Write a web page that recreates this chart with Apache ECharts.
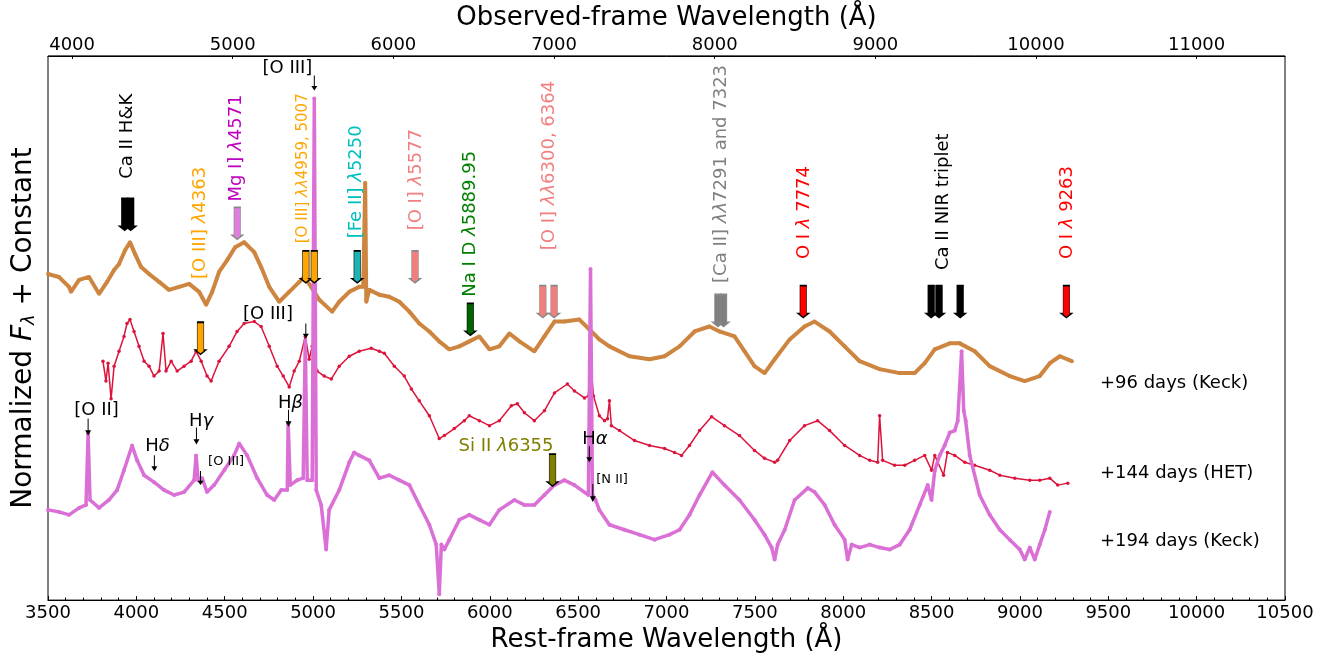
<!DOCTYPE html>
<html>
<head>
<meta charset="utf-8">
<script src="https://cdn.jsdelivr.net/npm/echarts@6/dist/echarts.min.js"></script>
<style>
html,body{margin:0;padding:0;background:#fff;}
#chart{width:1335px;height:658px;}
</style>
</head>
<body>
<div id="chart"></div>
<script>
// ---------------- data ----------------
const restTicks = [3500,4000,4500,5000,5500,6000,6500,7000,7500,8000,8500,9000,9500,10000,10500];
const obsTicks = [4000,5000,6000,7000,8000,9000,10000,11000];

// +96 days (Keck)
const day96Wave = [3500,3562,3619,3630,3676,3732,3789,3834,3874,3902,3936,3964,3993,4027,4072,4129,4185,4242,4299,4355,4395,4429,4468,4514,4559,4610,4667,4706,4752,4808,4865,4922,4950,4989,5035,5108,5148,5205,5261,5284,5295,5301,5318,5375,5431,5488,5545,5601,5658,5714,5771,5828,5884,5941,5998,6054,6111,6168,6252,6309,6366,6422,6507,6564,6620,6677,6790,6904,6989,7074,7159,7243,7300,7385,7442,7498,7555,7612,7697,7781,7838,7923,8008,8093,8206,8320,8404,8461,8518,8603,8659,8744,8829,8942,9027,9112,9169,9226,9294];
const day96Flux = [3.29,3.26,3.16,3.11,3.23,3.26,3.09,3.21,3.33,3.39,3.53,3.61,3.49,3.36,3.29,3.21,3.13,3.16,3.19,3.11,2.98,3.11,3.31,3.43,3.56,3.61,3.51,3.36,3.16,3.01,3.11,3.21,3.26,3.16,3.03,2.91,3.01,3.11,3.16,3.16,4.21,3.01,3.13,3.08,3.06,3.01,2.91,2.79,2.71,2.61,2.53,2.56,2.61,2.66,2.53,2.56,2.69,2.61,2.51,2.66,2.81,2.81,2.83,2.73,2.63,2.56,2.46,2.43,2.46,2.56,2.71,2.76,2.71,2.66,2.51,2.36,2.29,2.43,2.63,2.76,2.81,2.71,2.56,2.41,2.33,2.29,2.29,2.39,2.53,2.59,2.59,2.51,2.36,2.26,2.21,2.26,2.39,2.46,2.41];

// +144 days (HET)
const day144Wave = [3811,3828,3840,3857,3874,3902,3930,3947,3964,3987,4015,4044,4072,4100,4129,4151,4168,4197,4231,4270,4310,4338,4367,4400,4423,4468,4525,4570,4610,4667,4706,4752,4797,4831,4865,4893,4922,4956,4978,4995,5023,5063,5103,5148,5205,5261,5329,5375,5403,5460,5516,5556,5601,5658,5714,5743,5799,5856,5884,5941,5998,6054,6122,6156,6196,6252,6309,6366,6439,6479,6536,6558,6570,6587,6620,6649,6666,6677,6688,6734,6819,6904,6989,7045,7085,7130,7187,7255,7328,7413,7498,7555,7612,7629,7697,7781,7855,7923,8008,8093,8150,8195,8206,8223,8291,8348,8404,8461,8500,8518,8568,8590,8631,8688,8744,8829,8886,8971,9056,9112,9169,9214,9271];
const day144Flux = [2.41,2.21,2.39,2.03,2.36,2.51,2.66,2.79,2.83,2.71,2.56,2.41,2.36,2.26,2.31,2.69,2.31,2.41,2.31,2.36,2.41,2.51,2.41,2.26,2.21,2.41,2.56,2.71,2.79,2.81,2.76,2.56,2.36,2.26,2.15,2.31,2.41,2.66,2.43,2.56,2.31,2.26,2.23,2.36,2.46,2.51,2.54,2.51,2.49,2.36,2.26,2.13,2.01,1.86,1.63,1.66,1.73,1.81,1.86,1.81,1.76,1.81,1.96,1.98,1.89,1.81,1.91,2.09,2.18,2.11,2.04,2.06,2.41,2.06,1.86,1.81,1.83,2.01,1.76,1.71,1.61,1.56,1.53,1.49,1.46,1.56,1.71,1.85,1.76,1.66,1.51,1.43,1.39,1.41,1.61,1.76,1.81,1.71,1.56,1.46,1.41,1.39,1.86,1.41,1.36,1.36,1.41,1.46,1.31,1.46,1.26,1.49,1.46,1.39,1.36,1.31,1.26,1.23,1.21,1.21,1.23,1.16,1.18];

// +194 days (Keck)
const day194Wave = [3500,3562,3619,3676,3715,3727,3738,3789,3845,3891,3930,3976,4004,4044,4100,4157,4214,4270,4327,4338,4350,4372,4400,4440,4497,4553,4582,4627,4684,4740,4780,4820,4854,4859,4871,4910,4944,4956,4967,4995,5007,5018,5046,5074,5091,5148,5205,5233,5261,5318,5375,5431,5488,5545,5601,5658,5697,5714,5726,5743,5771,5828,5884,5941,5998,6054,6139,6196,6252,6309,6366,6422,6479,6558,6570,6581,6598,6620,6677,6762,6847,6932,7017,7074,7130,7187,7260,7328,7413,7498,7555,7595,7612,7629,7669,7725,7799,7838,7895,7951,8008,8025,8048,8093,8150,8206,8263,8320,8376,8433,8478,8500,8518,8546,8574,8603,8631,8648,8670,8682,8693,8716,8772,8829,8886,8942,8999,9027,9056,9084,9112,9141,9169];
const day194Flux = [0.91,0.89,0.86,0.93,0.96,1.68,1.01,0.93,1.01,1.11,1.31,1.56,1.41,1.26,1.19,1.11,1.06,1.09,1.21,1.46,1.21,1.23,1.09,1.16,1.31,1.46,1.58,1.46,1.23,1.06,1.01,1.11,1.11,1.79,1.16,1.21,1.23,2.62,1.21,1.21,5.06,1.11,0.96,0.51,0.91,1.11,1.39,1.49,1.46,1.41,1.23,1.26,1.21,1.16,0.96,0.76,0.56,0.06,0.56,0.51,0.61,0.81,0.86,0.81,0.76,0.91,1.01,0.96,0.96,1.06,1.16,1.21,1.16,1.06,3.34,1.06,1.01,0.91,0.76,0.71,0.66,0.61,0.66,0.71,0.86,1.06,1.29,1.16,1.01,0.81,0.66,0.53,0.41,0.56,0.71,1.01,1.13,1.09,0.96,0.76,0.61,0.41,0.56,0.53,0.56,0.53,0.51,0.56,0.71,0.96,1.16,1.01,1.31,1.46,1.56,1.69,1.71,1.81,2.51,1.91,1.81,1.46,1.06,0.86,0.71,0.61,0.51,0.41,0.53,0.41,0.56,0.71,0.89];

const epochNames = ['+96 days (Keck)','+144 days (HET)','+194 days (Keck)'];
const epochLabelWave = [9453,9453,9453];
const epochLabelFlux = [2.19,1.28,0.59];

// line identifications (block arrows): rest wavelength and arrow-tip flux
const lineWave = [3934,3968,4363,4571,4959,5007,5250,5577,5889.95,6300,6364,7291,7323,7774,8498,8542,8662,9263,6355];
const lineTip  = [3.73,3.73,2.48,3.64,3.20,3.20,3.20,3.20,2.67,2.85,2.85,2.76,2.76,2.85,2.85,2.85,2.85,2.85,1.15];

// vertical line-identification labels
const idLabels = ['Ca II H&K','[O III] λ4363','Mg I] λ4571','[O III] λλ4959, 5007','[Fe II] λ5250','[O I] λ5577','Na I D λ5889.95','[O I] λλ6300, 6364','[Ca II] λλ7291 and 7323','O I λ 7774','Ca II NIR triplet','O I λ 9263'];
const idLabelWave = [3951,4363,4563,4943,5247,5586,5892,6335,7312,7778,8565,9267];
const idLabelFlux = [4.25,3.24,4.02,3.60,3.65,3.73,3.06,3.53,3.20,3.44,3.33,3.44];

// narrow emission lines (thin arrows)
const narrowWave = [5007,4959,3727,4102,4340,4363,4861,6563,6583];
const narrowTip  = [5.14,2.64,1.66,1.30,1.57,1.16,1.75,1.39,0.99];
const narrowText = ['[O III]','[O III]','[O II]','Hδ','Hγ','[O III]','Hβ','Hα','[N II]'];
const narrowTextWave = [4855,4745,3775,4120,4366,4508,4872,6595,6692];
const narrowTextFlux = [5.36,2.88,1.91,1.555,1.80,1.395,1.99,1.625,1.22];

const siText = 'Si II λ6355';
const siTextWave = 6092, siTextFlux = 1.555;

// ---------------- styles ----------------
const FONT = 'DejaVu Sans';
const spectrumColors = ['#cd853f','#dc143c','#da70d6'];
const arrowFill = ['#000','#000','#ffa500','#dd7fdd','#ffa500','#ffa500','#1cb3b3','#f08080','#006400','#f08080','#f08080','#808080','#808080','#ff0000','#000','#000','#000','#ff0000','#808000'];
const arrowEdge = ['#000','#000','#000','#888','#000','#000','#000','#888','#000','#888','#888','#888','#888','#000','#000','#000','#000','#000','#000'];
const idLabelColor = ['#000','#ffa500','#bf00bf','#ffa500','#00bfbf','#f08080','#008000','#f08080','#808080','#ff0000','#000','#ff0000'];
const idLabelSize = [18,18,18,15,18,18,18,18,18,18,18,18];
const narrowLen = [15,15,17,16,17,14,17,16,18];
const narrowFont = [18,18,18,18,18,13,18,18,13];

const BLOCK = 'path://M1.7,0 L8.3,0 L8.3,28 L10,28 L5,32 L0,28 L1.7,28 Z';
const THIN = 'path://M2.5,0 L3.5,0 L3.5,11 L6,11 L3,16 L0,11 L2.5,11 Z';

function richify(t){ return t.replace(/([λδγβα])/g,'{l|$1}'); }
function zip(w,f){ return w.map((x,i)=>[x,f[i]]); }

const specs = [[day96Wave,day96Flux],[day144Wave,day144Flux],[day194Wave,day194Flux]];
const widths = [4,1.5,3.5];
const sizes = [4,3.5,4];

const series = specs.map((s,k)=>({
  type:'line', data: zip(s[0],s[1]), symbol:'circle', symbolSize:sizes[k], showSymbol:true, showAllSymbol:true,
  lineStyle:{color:spectrumColors[k], width:widths[k]}, itemStyle:{color:spectrumColors[k], opacity:1},
  silent:true, z:2+k, animation:false
}));

series.push({
  type:'scatter', silent:true, z:10, symbol:BLOCK, symbolSize:[10,32], symbolOffset:[0,'-50%'],
  data: lineWave.map((w,i)=>({value:[w,lineTip[i]], itemStyle:{color:arrowFill[i], borderColor:arrowEdge[i], borderWidth:1, opacity:1}})),
  animation:false
});

series.push({
  type:'scatter', silent:true, z:10,
  data: narrowWave.map((w,i)=>({value:[w,narrowTip[i]], symbol:THIN, symbolSize:[6,narrowLen[i]], symbolOffset:[0,'-50%'], itemStyle:{color:'#000', opacity:1}})),
  animation:false
});

const labelBase = {show:true, position:'inside', fontFamily:FONT, textBorderWidth:0, opacity:1, rich:{l:{fontStyle:'italic'}}};
const hidden = {color:'rgba(0,0,0,0)', opacity:1};

series.push({
  type:'scatter', silent:true, z:11, symbolSize:1, itemStyle:hidden,
  data: idLabels.map((t,i)=>({value:[idLabelWave[i],idLabelFlux[i]],
    label:Object.assign({}, labelBase, {formatter:richify(t), color:idLabelColor[i], fontSize:idLabelSize[i], rotate:90, align:'left', verticalAlign:'middle'})})),
  animation:false
});

series.push({
  type:'scatter', silent:true, z:11, symbolSize:1, itemStyle:hidden,
  data: narrowText.map((t,i)=>({value:[narrowTextWave[i],narrowTextFlux[i]],
    label:Object.assign({}, labelBase, {formatter:richify(t), color:'#000', fontSize:narrowFont[i], align:'center', verticalAlign:'middle'})}))
    .concat([{value:[siTextWave,siTextFlux], label:Object.assign({}, labelBase, {formatter:richify(siText), color:'#808000', fontSize:18, align:'center', verticalAlign:'middle'})}])
    .concat(epochNames.map((t,i)=>({value:[epochLabelWave[i],epochLabelFlux[i]],
      label:Object.assign({}, labelBase, {formatter:t, color:'#000', fontSize:18, align:'left', verticalAlign:'middle'})}))),
  animation:false
});

const plain = v => String(v);

const chart = echarts.init(document.getElementById('chart'), null, {renderer:'canvas'});
chart.setOption({
  animation:false,
  backgroundColor:'#fff',
  grid:{left:48, right:50, top:52, bottom:57, show:true, borderColor:'#000', borderWidth:1, backgroundColor:'transparent'},
  xAxis:[
    {type:'value', position:'bottom', min:3500, max:10500, interval:500,
     axisLine:{show:true, lineStyle:{color:'#000', width:1}},
     axisTick:{show:true, inside:true, length:4, lineStyle:{color:'#000'}},
     minorTick:{show:true, splitNumber:5, length:2.5, lineStyle:{color:'#000'}},
     axisLabel:{fontSize:18, fontFamily:FONT, color:'#000', margin:4, formatter:plain, showMinLabel:true, showMaxLabel:true},
     splitLine:{show:false}, minorSplitLine:{show:false},
     name:'Rest-frame Wavelength (Å)', nameLocation:'middle', nameGap:22,
     nameTextStyle:{fontSize:26, fontFamily:FONT, color:'#000'}},
    {type:'value', position:'top', min:3850, max:11550,
     axisLine:{show:true, lineStyle:{color:'#000', width:1}},
     axisTick:{show:true, inside:true, length:3, customValues:obsTicks, lineStyle:{color:'#000'}},
     axisLabel:{fontSize:18, fontFamily:FONT, color:'#000', margin:2, customValues:obsTicks, formatter:plain},
     splitLine:{show:false},
     name:'Observed-frame Wavelength (Å)', nameLocation:'middle', nameGap:22,
     nameTextStyle:{fontSize:26, fontFamily:FONT, color:'#000'}}
  ],
  yAxis:{type:'value', min:0, max:5.49,
    axisLine:{show:false}, axisTick:{show:false}, axisLabel:{show:false}, splitLine:{show:false},
    name:'Normalized {i|F}{s|λ} + Constant', nameLocation:'middle', nameGap:10, nameRotate:90,
    nameTextStyle:{fontSize:28, fontFamily:FONT, color:'#000',
      rich:{i:{fontSize:28, fontStyle:'italic', fontFamily:FONT, color:'#000'}, s:{fontSize:18, fontStyle:'italic', fontFamily:FONT, color:'#000', verticalAlign:'bottom'}}}},
  series: series
});
</script>
</body>
</html>
